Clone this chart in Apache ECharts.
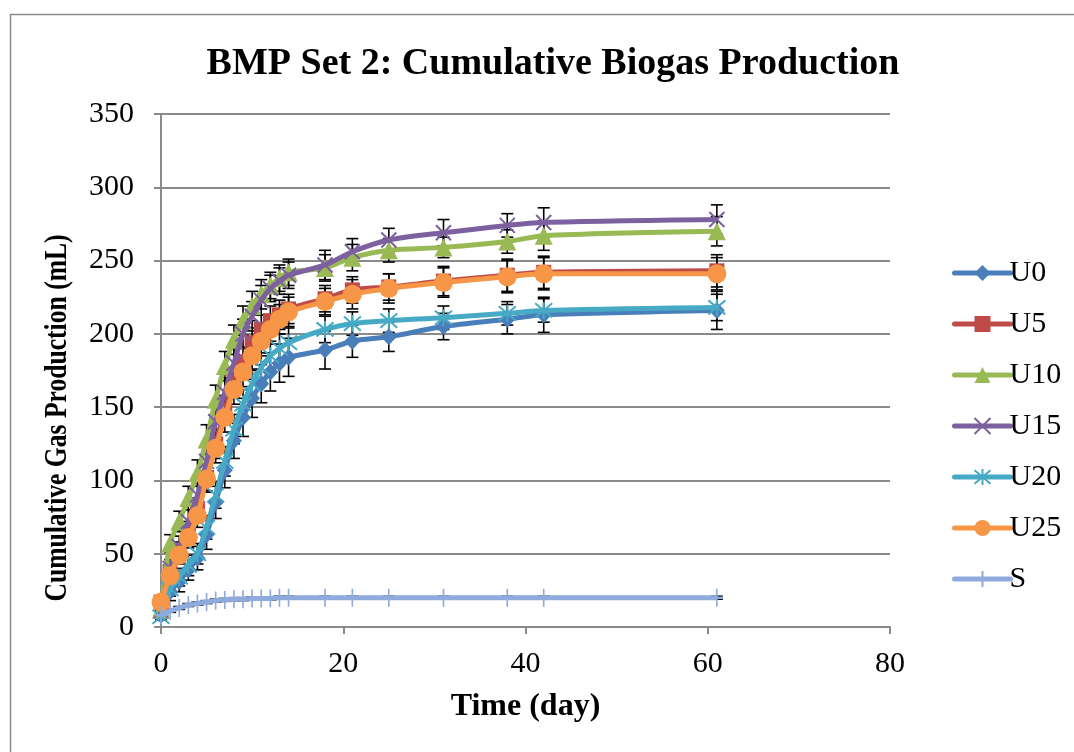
<!DOCTYPE html>
<html>
<head>
<meta charset="utf-8">
<script src="https://cdn.jsdelivr.net/npm/echarts@6/dist/echarts.min.js"></script>
<style>
  html, body { margin: 0; padding: 0; background: #fff; }
  #chart { width: 1074px; height: 752px; }
</style>
</head>
<body>
<div id="chart"></div>
<script>
// Dias de medição
const days = [0, 1, 2, 3, 4, 5, 6, 7, 8, 9, 10, 11, 12, 13, 14, 18, 21, 25, 31, 38, 42, 61];

// Produção acumulada (mL) por série
const u0 = [8, 24, 31, 39, 47, 63, 85, 107, 127, 143, 156, 166, 174, 180, 184, 189, 195, 198, 205, 210, 213, 216];
const u5 = [17, 38, 52, 65, 80, 102, 125, 148, 167, 181, 194, 203, 209, 213, 217, 224, 230, 232, 236, 240, 242, 243];
const u10 = [12, 57, 72, 88, 105, 128, 155, 178, 196, 209, 219, 227, 233, 238, 242, 245, 252, 257, 259, 263, 267, 270];
const u15 = [11, 40, 55, 72, 90, 113, 140, 160, 180, 200, 212, 223, 231, 236, 240, 247, 256, 264, 269, 274, 276, 278];
const u20 = [7, 26, 34, 42, 50, 68, 90, 113, 135, 152, 166, 177, 185, 190, 194, 203, 207, 209, 211, 214, 216, 218];
const u25 = [17, 35, 49, 61, 76, 101, 122, 143, 162, 174, 185, 195, 203, 210, 215, 222, 227, 231, 235, 239, 241, 241];
const s = [8, 11, 13, 15, 16, 17, 18, 18.5, 19, 19, 19.5, 19.5, 19.5, 20, 20, 20, 20, 20, 20, 20, 20, 20];

// Barras de erro (+/-)
const errU0 = [3, 6, 7, 7, 8, 10, 11, 12, 12, 13, 13, 13, 13, 13, 13, 13, 11, 10, 9, 10, 12, 13];
const errU5 = [3, 5, 6, 7, 8, 9, 10, 10, 10, 10, 10, 10, 10, 10, 10, 9, 9, 9, 10, 11, 11, 11];
const errU10 = [3, 6, 7, 8, 9, 10, 10, 10, 10, 10, 10, 10, 9, 9, 9, 9, 9, 8, 7, 8, 10, 10];
const errU15 = [3, 6, 7, 8, 9, 10, 10, 10, 10, 10, 10, 10, 9, 9, 9, 10, 9, 8, 9, 8, 10, 10];
const errU20 = [2, 5, 6, 7, 7, 8, 9, 10, 10, 10, 10, 10, 10, 10, 10, 9, 8, 8, 8, 8, 8, 9];
const errU25 = [3, 5, 6, 7, 8, 9, 10, 10, 10, 10, 10, 10, 10, 10, 10, 9, 10, 10, 10, 11, 11, 11];
const errS = [1, 1, 1, 1, 1, 1, 1, 1, 1, 1, 1, 1, 1, 1, 1, 1, 1, 1, 1, 1, 1, 1];

const seriesNames = ["U0", "U5", "U10", "U15", "U20", "U25", "S"];
const seriesValues = [u0, u5, u10, u15, u20, u25, s];
const seriesErrors = [errU0, errU5, errU10, errU15, errU20, errU25, errS];

const cores = ["#4A7EBB", "#BE4B48", "#98B954", "#7D60A0", "#46AAC5", "#F79646", "#8FAADC"];
const simbolos = [
    'diamond',
    'rect',
    'triangle',
    'path://M0,0L10,10M10,0L0,10',
    'path://M0,0L10,10M10,0L0,10M5,-1L5,11',
    'circle',
    'path://M5,0L5,10M0,5L10,5'
];
const tamanhos = [[16, 17], 15, 18, 15, 17, 19, [12, 18]];
const tracejado = [false, false, false, true, true, false, true];

const fonte = '"Liberation Serif", "Times New Roman", serif';

// Desenha barra de erro com tampas
function renderErro(params, api) {
    const x = api.value(0);
    const baixo = api.coord([x, api.value(1)]);
    const alto = api.coord([x, api.value(2)]);
    const w = 6;
    const estilo = { stroke: '#000', lineWidth: 1.6 };
    return {
        type: 'group',
        children: [
            { type: 'line', shape: { x1: baixo[0], y1: baixo[1], x2: alto[0], y2: alto[1] }, style: estilo },
            { type: 'line', shape: { x1: baixo[0] - w, y1: baixo[1], x2: baixo[0] + w, y2: baixo[1] }, style: estilo },
            { type: 'line', shape: { x1: alto[0] - w, y1: alto[1], x2: alto[0] + w, y2: alto[1] }, style: estilo }
        ]
    };
}

const series = [];

seriesNames.forEach((nome, i) => {
    series.push({
        type: 'custom',
        name: nome + '_err',
        renderItem: renderErro,
        data: days.map((d, j) => [d, seriesValues[i][j] - seriesErrors[i][j], seriesValues[i][j] + seriesErrors[i][j]]),
        encode: { x: 0, y: [1, 2] },
        z: 1,
        silent: true
    });
});

seriesNames.forEach((nome, i) => {
    series.push({
        type: 'line',
        name: nome,
        data: days.map((d, j) => [d, seriesValues[i][j]]),
        smooth: 0.3,
        symbol: simbolos[i],
        symbolSize: tamanhos[i],
        showAllSymbol: true,
        lineStyle: { color: cores[i], width: 5 },
        itemStyle: tracejado[i]
            ? { color: cores[i], borderColor: cores[i], borderWidth: 2 }
            : { color: cores[i], borderWidth: 0 },
        z: 2 + i,
        emphasis: { disabled: true }
    });
});

const chart = echarts.init(document.getElementById('chart'));
chart.setOption({
    animation: false,
    title: {
        text: 'BMP Set 2: Cumulative Biogas Production',
        left: 548,
        top: 40,
        textAlign: 'center',
        textStyle: { fontFamily: fonte, fontSize: 38, fontWeight: 'bold', color: '#000' }
    },
    legend: {
        orient: 'vertical',
        left: 947,
        top: 253,
        itemWidth: 56,
        itemHeight: 20,
        itemGap: 21,
        data: seriesNames,
        lineStyle: { width: 5, cap: 'round' },
        textStyle: { fontFamily: fonte, fontSize: 30, color: '#000', padding: [0, 0, 0, -6] }
    },
    graphic: [{
        type: 'rect',
        shape: { x: 10.5, y: 14.5, width: 1100, height: 800 },
        style: { fill: 'none', stroke: '#8a8a8a', lineWidth: 1.5 },
        silent: true
    }, {
        // título do eixo y, estreitado como no original
        type: 'text',
        x: 58,
        y: 418,
        rotation: Math.PI / 2,
        scaleX: 0.8,
        style: {
            text: 'Cumulative Gas Production (mL)',
            font: 'bold 32px ' + fonte,
            fill: '#000',
            align: 'center',
            verticalAlign: 'middle'
        },
        silent: true
    }],
    grid: { left: 161, right: 184, top: 114, bottom: 125 },
    xAxis: {
        type: 'value',
        min: 0,
        max: 80,
        interval: 20,
        name: 'Time (day)',
        nameLocation: 'middle',
        nameGap: 64,
        nameTextStyle: { fontFamily: fonte, fontSize: 32, fontWeight: 'bold', color: '#000' },
        axisLine: { show: true, lineStyle: { color: '#8a8a8a', width: 2 } },
        axisTick: { show: true, length: 7, lineStyle: { color: '#8a8a8a', width: 2 } },
        axisLabel: { fontFamily: fonte, fontSize: 30, color: '#000', margin: 22 },
        splitLine: { show: false }
    },
    yAxis: {
        type: 'value',
        min: 0,
        max: 350,
        interval: 50,
        axisLine: { show: true, lineStyle: { color: '#8a8a8a', width: 2 } },
        axisTick: { show: true, length: 7, lineStyle: { color: '#8a8a8a', width: 2 } },
        axisLabel: { fontFamily: fonte, fontSize: 30, color: '#000', margin: 27 },
        splitLine: { show: true, lineStyle: { color: '#8a8a8a', width: 2 } }
    },
    series
});
</script>
</body>
</html>
